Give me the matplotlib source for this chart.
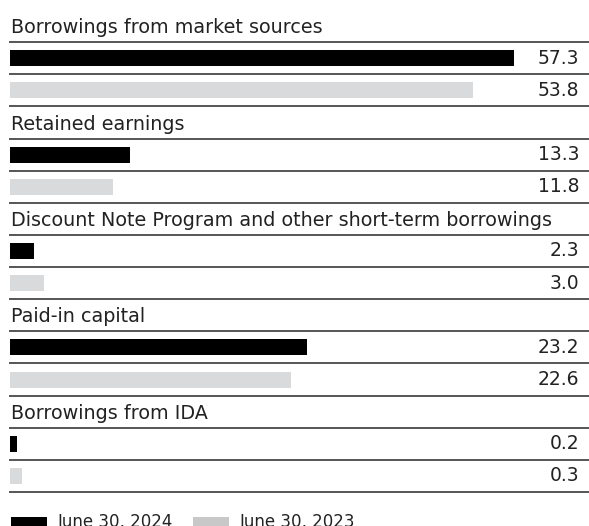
import matplotlib
matplotlib.use("Agg")
import matplotlib.pyplot as plt
from matplotlib.patches import Patch
import matplotlib.transforms as mtransforms

categories = ["Borrowings from market sources", "Retained earnings",
              "Discount Note Program and other short-term borrowings",
              "Paid-in capital", "Borrowings from IDA"]
labels_2024 = ["57.3", "13.3", "2.3", "23.2", "0.2"]
labels_2023 = ["53.8", "11.8", "3.0", "22.6", "0.3"]
# bar lengths as drawn in the picture (not to one common scale)
bars_2024 = [57.3, 13.6, 2.7, 33.8, 0.8]
bars_2023 = [52.6, 11.7, 3.9, 31.9, 1.4]
series = ["June 30, 2024", "June 30, 2023"]
colors = ["#000000", "#d9dadc"]
legend_colors = ["#000000", "#c8c8c8"]

plt.rcParams['font.family'] = ['DejaVu Sans']
fig = plt.figure(figsize=(5.89, 5.26), dpi=100)
ax = fig.add_axes([10/589, 1-492/526, 1-10/589, (492-10)/526])
ax.set_xlim(0, 65.8)
ax.set_ylim(15, 0)
ax.axis('off')

trans = mtransforms.blended_transform_factory(ax.transAxes, ax.transData)
fs = 13.8
for i, cat in enumerate(categories):
    r = i * 3
    ax.text(0.002, r + 0.72, cat, fontsize=fs, color="#222222", va='baseline', ha='left', transform=trans)
    ax.barh(r + 1.5, bars_2024[i], height=0.5, left=0, color=colors[0])
    ax.barh(r + 2.5, bars_2023[i], height=0.5, left=0, color=colors[1])
    ax.text(1 - 10/579, r + 1.5, labels_2024[i], fontsize=13.5, color="#222222", va='center', ha='right', transform=trans)
    ax.text(1 - 10/579, r + 2.5, labels_2023[i], fontsize=13.5, color="#222222", va='center', ha='right', transform=trans)

for y in range(1, 16):
    ax.plot([0, 1], [y, y], color="#555555", lw=1.4, transform=trans, clip_on=False)

handles = [Patch(facecolor=c, edgecolor='none') for c in legend_colors]
fig.legend(handles, series, loc='lower left', bbox_to_anchor=(0.007, -0.023), ncol=2, frameon=False,
           fontsize=12, handlelength=2.2, handleheight=0.45, handletextpad=0.6, columnspacing=1.2,
           borderaxespad=0, labelcolor="#222222")

fig.savefig("out.png", dpi=100)
